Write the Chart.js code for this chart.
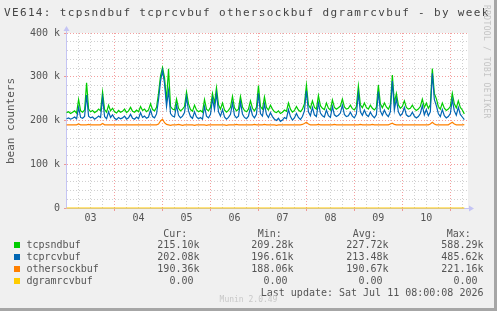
<!DOCTYPE html>
<html><head><meta charset="utf-8">
<script src="https://cdn.jsdelivr.net/npm/chart.js@4.4.1/dist/chart.umd.min.js"></script>
<style>
html,body{margin:0;padding:0;background:#f0f0f0;}
#wrap{position:relative;width:497px;height:311px;overflow:hidden;background:#f0f0f0;font-family:"DejaVu Sans Mono",monospace;color:#555;}
#c{position:absolute;left:0;top:0;}
.t{position:absolute;white-space:pre;font-size:10px;line-height:12px;}
.r{text-align:right;}
.sq{position:absolute;width:6px;height:6px;}
</style></head>
<body><div id="wrap">
<canvas id="c" width="497" height="311"></canvas>
<div id="title" class="t" style="left:0;top:5px;width:494px;text-align:left;padding-left:4px;font-size:11px;line-height:16px;letter-spacing:1.34px;color:#444;"></div>
<div id="ytitle" class="t" style="left:-49px;top:115px;width:120px;text-align:center;font-size:11px;line-height:12px;transform:rotate(-90deg);transform-origin:50% 50%;"></div>
<div id="wm" class="t" style="left:491px;top:5px;font-size:8px;line-height:9px;letter-spacing:0.35px;color:#c4c4c4;transform:rotate(90deg);transform-origin:0 0;"></div>
<div id="legend"></div>
<div id="frameR" style="position:absolute;left:494px;top:0;width:3px;height:311px;background:#a6a6a6;"></div>
<div id="frameB" style="position:absolute;left:0;top:308px;width:497px;height:3px;background:#a6a6a6;"></div>
</div>
<script>
// ---- data (values in k, one point per hour starting Jul 2 00:00 = hour -24) ----
const HOUR_START = -24;
const HOUR_STEP = 1;
const tcpsndbuf = [
218,220,216,219,222,217,248,222,219,224,
286,226,220,223,218,221,226,222,265,225,
219,235,222,228,220,217,223,219,221,226,
218,222,230,221,219,224,220,232,223,226,
220,224,238,225,222,230,262,302,321,298,
245,318,232,226,224,249,228,222,226,232,
265,238,225,221,235,224,220,223,219,248,
226,222,230,262,240,275,236,226,240,224,
219,223,230,255,229,222,226,255,231,223,
220,226,245,228,222,230,280,232,226,254,
230,224,235,226,220,218,222,216,219,224,
221,240,226,219,223,232,224,220,226,238,
281,236,228,245,230,226,257,234,228,225,
240,228,224,247,230,226,229,233,249,231,
226,228,235,227,224,232,279,236,229,240,
230,226,235,228,224,230,281,238,229,240,
231,226,236,304,240,262,236,228,232,245,
230,226,228,235,227,223,226,232,249,230,
240,228,236,319,262,250,232,226,240,228,
223,226,232,262,238,229,245,230,224,215.1
];
const tcprcvbuf = [
204,206,203,205,208,204,230,207,205,209,
258,210,206,208,203,206,210,207,252,209,
204,220,207,213,205,202,207,204,206,210,
203,206,214,205,203,208,204,218,207,210,
205,208,224,209,206,215,248,290,314,285,
232,268,216,210,208,235,212,206,210,218,
254,222,209,205,220,208,204,207,203,232,
210,206,214,250,225,262,220,210,225,208,
203,207,214,240,212,206,210,242,215,207,
204,210,230,212,206,214,262,216,210,238,
214,207,218,209,203,200,205,198,201,207,
204,225,209,201,206,216,207,202,209,222,
268,220,211,230,213,209,240,217,211,208,
224,211,207,232,213,209,212,217,235,214,
209,211,219,210,206,215,262,220,212,224,
213,209,219,211,206,213,266,222,212,224,
214,209,220,290,224,250,220,211,216,230,
213,209,211,219,210,206,209,216,234,213,
225,211,220,308,248,234,216,209,225,211,
206,209,216,248,222,212,230,214,208,202.08
];
const othersockbuf = [
190,190,190,190,190,190,192,190,190,190,
190,191,190,190,190,190,190,190,193,190,
190,190,190,190,190,190,190,190,190,190,
190,190,190,190,190,190,190,190,190,190,
190,190,190,190,190,190,192,199,203,195,
191,190,189,190,190,190,191,190,189,190,
190,190,190,190,189,190,190,190,190,190,
189,190,190,190,190,190,190,190,190,190,
189,190,190,190,190,191,190,190,190,190,
190,190,190,190,191,190,190,190,190,191,
190,190,190,190,190,189,190,190,190,190,
190,190,190,190,190,190,190,190,191,193,
196,192,190,190,190,190,191,190,190,190,
190,190,190,190,191,190,190,190,190,190,
190,190,190,190,190,190,190,191,190,190,
190,190,190,191,190,190,190,190,190,190,
190,190,192,194,191,190,190,190,190,190,
190,190,190,190,190,190,190,190,190,190,
190,190,192,196,192,190,190,190,190,190,
190,190,193,196,192,190,190,190,190,190.36
];
const dgramHours = [-24, 175];
const dgramrcvbuf = [0, 0];

const dayLabels = ['03','04','05','06','07','08','09','10'];
const seriesNames = ['tcpsndbuf','tcprcvbuf','othersockbuf','dgramrcvbuf'];
const seriesColors = ['#00cc00','#0066b3','#ff8000','#ffcc00'];
const curVals = ['215.10k','202.08k','190.36k','0.00 '];
const minVals = ['209.28k','196.61k','188.06k','0.00 '];
const avgVals = ['227.72k','213.48k','190.67k','0.00 '];
const maxVals = ['588.29k','485.62k','221.16k','0.00 '];
const titleText = 'VE614: tcpsndbuf tcprcvbuf othersockbuf dgramrcvbuf - by week';
const yTitle = 'bean counters';
const lastUpdate = 'Last update: Sat Jul 11 08:00:08 2026';
const versionText = 'Munin 2.0.49';
const watermark = 'RRDTOOL / TOBI OETIKER';

// ---- text ----
document.getElementById('title').textContent = titleText;
document.getElementById('ytitle').textContent = yTitle;
document.getElementById('wm').textContent = watermark;
const lg = document.getElementById('legend');
function addText(txt, left, top, right, extra){
  const d = document.createElement('div');
  d.className = 't' + (right ? ' r' : '');
  d.textContent = txt;
  if (right) { d.style.right = (497 - left) + 'px'; } else { d.style.left = left + 'px'; }
  d.style.top = top + 'px';
  if (extra) Object.assign(d.style, extra);
  lg.appendChild(d);
}
const headTop = 227.5;
addText('Cur:', 163.3, headTop);
addText('Min:', 257.7, headTop);
addText('Avg:', 352.7, headTop);
addText('Max:', 446.7, headTop);
const rowTops = [238.5, 250.8, 263.1, 275.4];
seriesNames.forEach((n, k) => {
  const sq = document.createElement('div');
  sq.className = 'sq';
  sq.style.left = '14px';
  sq.style.top = (rowTops[k] + 3) + 'px';
  sq.style.background = seriesColors[k];
  lg.appendChild(sq);
  addText(n, 26.5, rowTops[k]);
  addText(curVals[k], 199.5, rowTops[k], true);
  addText(minVals[k], 293.5, rowTops[k], true);
  addText(avgVals[k], 388.5, rowTops[k], true);
  addText(maxVals[k], 483.5, rowTops[k], true);
});
addText(lastUpdate, 483.5, 286.8, true);
addText(versionText, 0, 295, false, {width:'497px', textAlign:'center', fontSize:'8px', lineHeight:'10px', color:'#c8c8c8', left:'0px'});

// ---- chart ----
function pts(arr){ return arr.map((v, i) => ({x: HOUR_START + i * HOUR_STEP, y: v * 1000})); }
const dgramPts = dgramHours.map((h, i) => ({x: h, y: dgramrcvbuf[i] * 1000}));

const RED = 'rgba(235,80,80,0.55)';
const GREY = 'rgba(150,150,150,0.45)';
const AXIS = '#c4c4f4';
const mod = (a, b) => ((a % b) + b) % b;

const axisPlugin = {
  id: 'munAxes',
  beforeDatasetsDraw(chart){
    const {ctx, chartArea: a} = chart;
    ctx.save();
    ctx.strokeStyle = AXIS; ctx.fillStyle = AXIS; ctx.lineWidth = 1;
    ctx.beginPath();
    ctx.moveTo(a.left - 0.5, a.bottom + 0.5); ctx.lineTo(a.left - 0.5, a.top - 3);
    ctx.moveTo(a.left - 0.5, a.bottom + 0.5); ctx.lineTo(a.right + 1, a.bottom + 0.5);
    ctx.stroke();
    ctx.beginPath();
    ctx.moveTo(a.left - 3.5, a.top - 2); ctx.lineTo(a.left + 2.5, a.top - 2); ctx.lineTo(a.left - 0.5, a.top - 7); ctx.closePath(); ctx.fill();
    ctx.beginPath();
    ctx.moveTo(a.right + 1, a.bottom - 2.5); ctx.lineTo(a.right + 1, a.bottom + 3.5); ctx.lineTo(a.right + 6, a.bottom + 0.5); ctx.closePath(); ctx.fill();
    ctx.restore();
  }
};
const whiteBg = {
  id: 'whiteBg',
  beforeDraw(chart){
    const {ctx, chartArea: a} = chart;
    ctx.save(); ctx.fillStyle = '#ffffff'; ctx.fillRect(a.left, a.top, a.right - a.left, a.bottom - a.top); ctx.restore();
  }
};

const tickFont = {family: 'DejaVu Sans Mono', size: 10};
new Chart(document.getElementById('c'), {
  type: 'line',
  data: {
    datasets: [
      {label: seriesNames[3], data: dgramPts, borderColor: seriesColors[3]},
      {label: seriesNames[2], data: pts(othersockbuf), borderColor: seriesColors[2]},
      {label: seriesNames[1], data: pts(tcprcvbuf), borderColor: seriesColors[1]},
      {label: seriesNames[0], data: pts(tcpsndbuf), borderColor: seriesColors[0]}
    ].map(d => Object.assign(d, {borderWidth: 1.2, pointRadius: 0, tension: 0, fill: false, clip: 4}))
  },
  options: {
    responsive: false, animation: false, devicePixelRatio: 1,
    layout: {padding: {left: 0, right: 29, top: 33, bottom: 83}},
    plugins: {legend: {display: false}, tooltip: {enabled: false}, title: {display: false}},
    scales: {
      x: {
        type: 'linear', min: -23.8, max: 176.85,
        afterBuildTicks: s => { const t = []; for (let v = -18; v <= 174; v += 6) t.push({value: v}); s.ticks = t; },
        afterFit: s => { s.height = 20; },
        ticks: {autoSkip: false, maxRotation: 0, minRotation: 0, color: '#555', font: tickFont, padding: 1,
          callback: v => mod(v + 12, 24) === 0 ? dayLabels[(v + 12) / 24] : ''},
        grid: {color: c => (c.tick && mod(c.tick.value, 24) === 0) ? RED : GREY, lineWidth: 1, drawTicks: true, tickLength: 3,
          tickColor: c => (c.tick && mod(c.tick.value, 24) === 0) ? RED : 'rgba(0,0,0,0)'},
        border: {display: false, dash: [1, 2]}
      },
      y: {
        min: 0, max: 400000,
        afterFit: s => { s.width = 67; },
        ticks: {stepSize: 20000, autoSkip: false, color: '#555', font: tickFont, padding: 4,
          callback: v => v % 100000 === 0 ? (v === 0 ? '0' : (v / 1000) + ' k') : ''},
        grid: {color: c => (c.tick && c.tick.value % 100000 === 0) ? RED : GREY, lineWidth: 1, drawTicks: true, tickLength: 3,
          tickColor: c => (c.tick && c.tick.value % 100000 === 0) ? RED : 'rgba(0,0,0,0)'},
        border: {display: false, dash: [1, 2]}
      }
    }
  },
  plugins: [whiteBg, axisPlugin]
});
</script>
</body></html>
